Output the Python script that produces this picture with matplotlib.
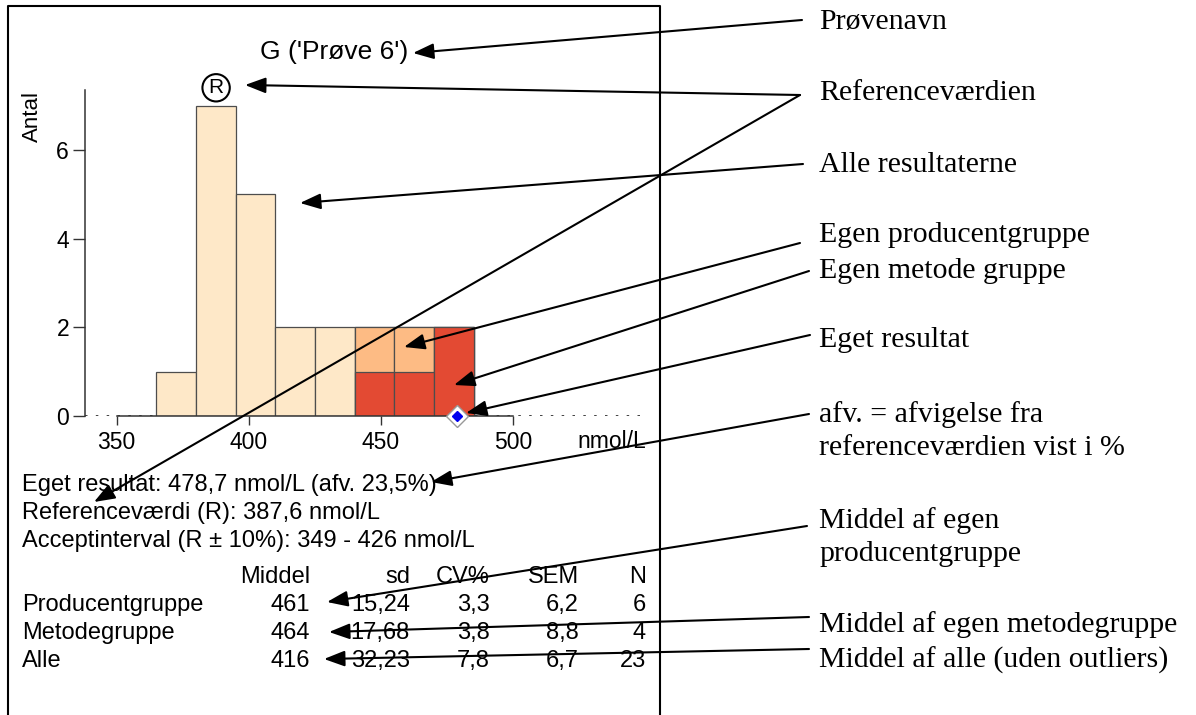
import matplotlib.pyplot as plt
import numpy as np

# histogram data
bin_edges = [365, 380, 395, 410, 425, 440, 455, 470, 485]
all_counts = [1, 7, 5, 2, 2, 2, 2, 2]
producer_counts = [0, 0, 0, 0, 0, 2, 2, 2]
method_counts = [0, 0, 0, 0, 0, 1, 1, 2]
own_result = 478.7
ref_value = 387.6
x_ticks = [350, 400, 450, 500]
y_ticks = [0, 2, 4, 6]

sample_title = "G ('Prøve 6')"
info_lines = [
    "Eget resultat: 478,7 nmol/L (afv. 23,5%)",
    "Referenceværdi (R): 387,6 nmol/L",
    "Acceptinterval (R ± 10%): 349 - 426 nmol/L",
]

# summary table
table_cols = ["Middel", "sd", "CV%", "SEM", "N"]
table_rows = ["Producentgruppe", "Metodegruppe", "Alle"]
table_mean = ["461", "464", "416"]
table_sd = ["15,24", "17,68", "32,23"]
table_cv = ["3,3", "3,8", "7,8"]
table_sem = ["6,2", "8,8", "6,7"]
table_n = ["6", "4", "23"]

# explanation labels on the right
labels = [
    "Prøvenavn",
    "Referenceværdien",
    "Alle resultaterne",
    "Egen producentgruppe",
    "Egen metode gruppe",
    "Eget resultat",
    "afv. = afvigelse fra\nreferenceværdien vist i %",
    "Middel af egen\nproducentgruppe",
    "Middel af egen metodegruppe",
    "Middel af alle (uden outliers)",
]
label_y = [22, 93, 165, 235, 271, 340, 431, 537, 625, 660]
# arrow (start, tip) in pixels
arrows = [
    ((802, 20), (413, 53)),
    ((800, 95), (245, 85)),
    ((800, 95), (94, 502)),
    ((803, 164), (300, 203)),
    ((800, 243), (404, 347)),
    ((809, 271), (454, 385)),
    ((810, 335), (466, 413)),
    ((809, 414), (431, 482)),
    ((807, 526), (327, 602)),
    ((809, 617), (329, 632)),
    ((809, 649), (324, 659)),
]

W, H = 1196, 715
plt.rcParams['font.family'] = ['Liberation Sans', 'DejaVu Sans']
fig = plt.figure(figsize=(W / 100, H / 100), dpi=100)

# histogram axes
ax = fig.add_axes([85 / W, 1 - 416 / H, (648 - 85) / W, (416 - 90) / H])
widths = np.diff(bin_edges)
lefts = np.array(bin_edges[:-1])
edge = '#4d4d4d'


def draw_bars(counts, color):
    counts = np.array(counts)
    keep = counts > 0
    ax.bar(lefts[keep], counts[keep], width=widths[keep], align='edge',
           color=color, edgecolor=edge, linewidth=0.9, zorder=2)


draw_bars(all_counts, '#fee8c8')
draw_bars(producer_counts, '#fdbb84')
draw_bars(method_counts, '#e34a33')

ax.axhline(0, color='#222222', lw=1.2, ls=(0, (1.5, 5)), zorder=1)
ax.plot([own_result], [0], marker='D', ms=11, mfc='white', mec='#999999',
        mew=1, zorder=4, clip_on=False)
ax.plot([own_result], [0], marker='D', ms=5.5, mfc='#0000ee', mec='#0000ee',
        zorder=5, clip_on=False)
ax.text(ref_value, 7.4, 'R', ha='center', va='center', fontsize=15,
        bbox=dict(boxstyle='circle,pad=0.2', fc='white', ec='black', lw=1.5))

ax.set_xlim(338, 551)
ax.set_ylim(0, 7.35)
ax.set_xticks(x_ticks)
ax.set_yticks(y_ticks)
for s in ['top', 'right']:
    ax.spines[s].set_visible(False)
ax.spines['bottom'].set_bounds(x_ticks[0], x_ticks[-1])
for s in ['bottom', 'left']:
    ax.spines[s].set_linewidth(1.1)
    ax.spines[s].set_color('#333333')
ax.tick_params(axis='x', length=6.5, width=1.0, pad=4, labelsize=16.5,
               color='#333333')
ax.tick_params(axis='y', length=8.5, width=1.0, pad=3, labelsize=16.5,
               color='#333333')
ax.patch.set_alpha(0)

# overlay in pixel coordinates for texts, frame and arrows
ov = fig.add_axes([0, 0, 1, 1], zorder=10)
ov.set_xlim(0, W)
ov.set_ylim(H, 0)
ov.axis('off')

ov.plot([8, 8, 660, 660], [H + 5, 6, 6, H + 5], color='black', lw=1.5)
ov.text(334, 52, sample_title, ha='center', va='center', fontsize=19)
ov.text(32, 117, 'Antal', ha='center', va='center', rotation=90, fontsize=16)
ov.text(646, 442, 'nmol/L', ha='right', va='center', fontsize=16.5)

for i, line in enumerate(info_lines):
    ov.text(22, 485 + 28 * i, line, ha='left', va='center', fontsize=17)

col_right = [310, 410, 490, 579, 646]
for c, name in enumerate(table_cols):
    ov.text(col_right[c], 577, name, ha='right', va='center', fontsize=17)
for r, name in enumerate(table_rows):
    y = 605 + 28 * r
    ov.text(22, y, name, ha='left', va='center', fontsize=17)
    vals = [table_mean[r], table_sd[r], table_cv[r], table_sem[r], table_n[r]]
    for c, v in enumerate(vals):
        ov.text(col_right[c], y, v, ha='right', va='center', fontsize=17)

for name, y in zip(labels, label_y):
    ov.text(819, y, name, ha='left', va='center', fontsize=21.5,
            family=['Liberation Serif', 'DejaVu Serif'], linespacing=1.35)

for start, tip in arrows:
    ov.annotate('', xy=tip, xytext=start,
                arrowprops=dict(arrowstyle='-|>,head_length=0.45,head_width=0.17',
                                mutation_scale=28, lw=1.5, color='black',
                                shrinkA=0, shrinkB=0))

fig.savefig('out.png', dpi=100)
